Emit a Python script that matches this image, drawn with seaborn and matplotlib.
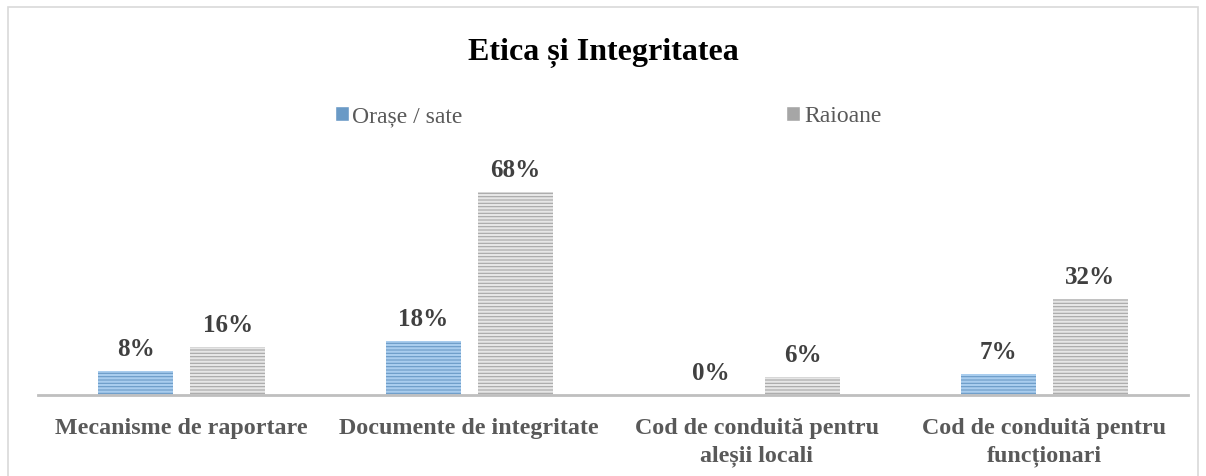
import pandas as pd
import matplotlib.pyplot as plt
import seaborn as sns
from matplotlib.patches import Rectangle

categories = ['Mecanisme de raportare', 'Documente de integritate',
              'Cod de conduită pentru\naleșii locali',
              'Cod de conduită pentru\nfuncționari']
orase = [8, 18, 0, 7]
raioane = [16, 68, 6, 32]
groups = ['Orașe / sate', 'Raioane']

df = pd.DataFrame({
    'cat': categories * 2,
    'val': orase + raioane,
    'grp': [groups[0]] * 4 + [groups[1]] * 4,
})

sns.set_style('white')
plt.rcParams['font.family'] = ['Liberation Serif', 'DejaVu Serif']
plt.rcParams['hatch.linewidth'] = 1.6

fig = plt.figure(figsize=(12.06, 4.77), dpi=100)
ax = fig.add_axes([38 / 1206, 81 / 477, 1150 / 1206, 239 / 477])

face = {groups[0]: '#5B9BD5', groups[1]: '#A6A6A6'}
lines = {groups[0]: '#A9CDEE', groups[1]: '#E6E6E6'}

sns.barplot(data=df, x='cat', y='val', hue='grp', palette=face,
            width=0.64, gap=0.19, ax=ax, legend=True)

for cont, g in zip(ax.containers, groups):
    for p in cont:
        p.set_hatch('-----')
        p.set_edgecolor(lines[g])
        p.set_linewidth(0)
    ax.bar_label(cont, labels=[f'{v:.0f}%' for v in cont.datavalues],
                 padding=8, fontsize=18, fontweight='bold', color='#404040')

ax.set_ylim(0, 80)
ax.set_xlim(-0.5, 3.5)
ax.set_xlabel('')
ax.set_ylabel('')
ax.set_yticks([])
for s in ['top', 'right', 'left']:
    ax.spines[s].set_visible(False)
ax.spines['bottom'].set_color('#BFBFBF')
ax.spines['bottom'].set_linewidth(2)
ax.tick_params(axis='x', length=0, pad=16, labelsize=17.3, colors='#595959')
for t in ax.get_xticklabels():
    t.set_fontweight('bold')
    t.set_linespacing(1.4)

ax.legend_.remove()
h, l = ax.get_legend_handles_labels()
leg = fig.legend(h, l, loc='center', bbox_to_anchor=(608 / 1206, 1 - 117 / 477),
                 ncol=2, frameon=False, fontsize=17, columnspacing=13.7,
                 handlelength=0.6, handleheight=0.6, handletextpad=0.15)
for t in leg.get_texts():
    t.set_color('#595959')

fig.text(0.5, 1 - 53 / 477, 'Etica și Integritatea', ha='center', va='center',
         fontsize=23, fontweight='bold', color='black')

fig.patches.append(Rectangle((8 / 1206, -0.1), 1190 / 1206, 0.1 + 469 / 477,
                             transform=fig.transFigure, fill=False,
                             edgecolor='#D9D9D9', linewidth=1.2))

fig.savefig('out.png', dpi=100)
